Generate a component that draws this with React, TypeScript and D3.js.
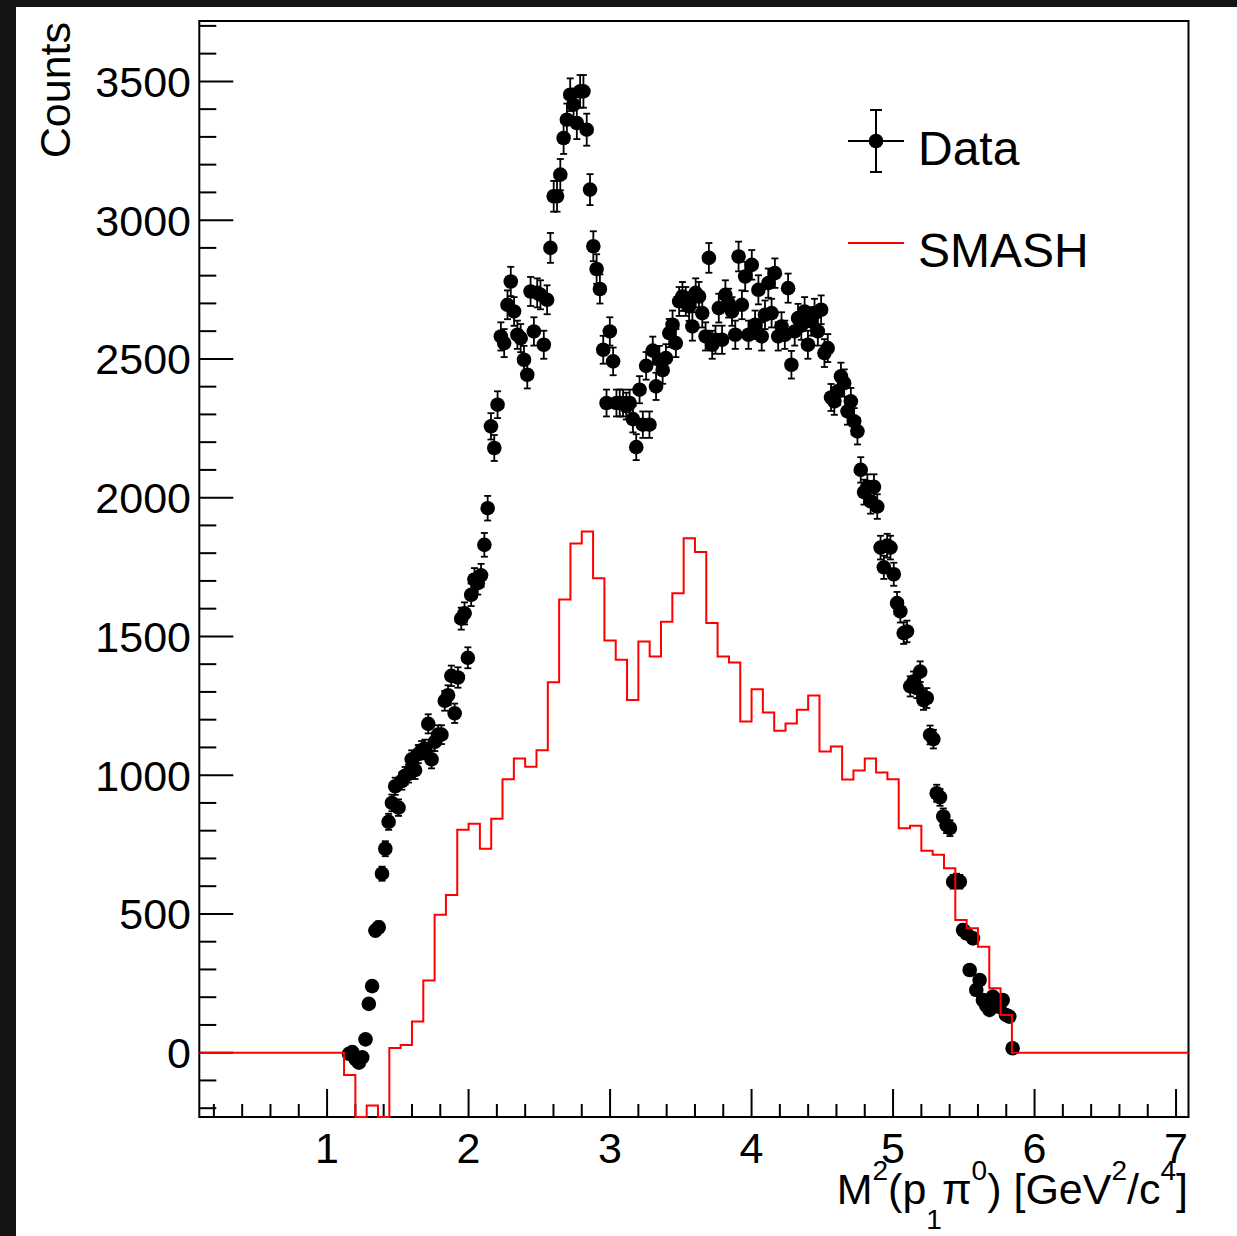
import React from "react";
import * as d3 from "d3";

const W = 1237;
const H = 1236;

// axis ranges (data units)
const X_DOMAIN: [number, number] = [0.097, 7.088];
const Y_DOMAIN: [number, number] = [-231.7, 3717.6];

const xMajorTicks = [1, 2, 3, 4, 5, 6, 7];
const yMajorTicks = [0, 500, 1000, 1500, 2000, 2500, 3000, 3500];
const xMinorStep = 0.2;
const yMinorStep = 100;

// Data histogram: bin centres start at DATA_FIRST_CENTER, width DATA_BIN_WIDTH
const DATA_FIRST_CENTER = 1.155;
const DATA_BIN_WIDTH = 7 / 300;
const dataCounts = [
  -4, 2, -23, -36, -17, 48, 176, 240, 440, 452,
  645, 735, 832, 900, 960, 883, 979, 998, 1005, 1057,
  1018, 1076, 1090, 1095, 1185, 1057, 1120, 1146, 1146, 1268,
  1288, 1358, 1223, 1352, 1564, 1583, 1423, 1650, 1705, 1692,
  1720, 1830, 1962, 2257, 2179, 2335, 2581, 2557, 2695, 2779,
  2671, 2587, 2575, 2497, 2443, 2743, 2599, 2738, 2731, 2551,
  2713, 2900, 3086, 3086, 3164, 3296, 3362, 3452, 3416, 3350,
  3464, 3464, 3326, 3110, 2906, 2824, 2752, 2533, 2341, 2599,
  2491, 2341, 2341, 2341, 2330, 2341, 2283, 2182, 2389, 2263,
  2475, 2263, 2530, 2401, 2497, 2460, 2503, 2593, 2623, 2557,
  2707, 2725, 2707, 2689, 2617, 2738, 2725, 2665, 2581, 2864,
  2551, 2569, 2683, 2569, 2731, 2701, 2671, 2587, 2869, 2695,
  2797, 2587, 2839, 2623, 2749, 2581, 2659, 2773, 2665, 2809,
  2581, 2617, 2587, 2755, 2479, 2599, 2647, 2620, 2671, 2551,
  2635, 2665, 2599, 2677, 2521, 2539, 2361, 2347, 2383, 2437,
  2413, 2311, 2347, 2275, 2239, 2100, 2020, 2039, 1987, 2039,
  1968, 1820, 1749, 1827, 1820, 1724, 1620, 1590, 1512, 1518,
  1320, 1337, 1314, 1373, 1271, 1278, 1145, 1130, 935, 920,
  851, 820, 809, 616, 620, 616, 442, 430, 298, 412,
  226, 262, 190, 170, 154, 202, 180, 165, 190, 136,
  130, 16,
];

// SMASH histogram: first bin low edge and bin width
const SMASH_FIRST_EDGE = 1.12;
const SMASH_BIN_WIDTH = 0.08;
const smashCounts = [
  -80, -300, -190, -300, 17, 28, 112, 260, 497, 568,
  803, 825, 735, 843, 985, 1060, 1030, 1090, 1335, 1633,
  1835, 1878, 1710, 1485, 1416, 1271, 1482, 1428, 1553, 1656,
  1854, 1804, 1548, 1428, 1406, 1193, 1310, 1226, 1160, 1186,
  1236, 1287, 1085, 1103, 984, 1017, 1060, 1010, 985, 809,
  818, 728, 713, 665, 478, 448, 382, 232, 136,
];

const legendLabels = ["Data", "SMASH"];

const FONT = "'Liberation Sans', Arial, Helvetica, sans-serif";
const RED = "#ff0000";

export default function App() {
  const left = 199.3;
  const right = 1188.5;
  const top = 21;
  const bottom = 1117;

  const x = d3.scaleLinear().domain(X_DOMAIN).range([left, right]);
  const y = d3.scaleLinear().domain(Y_DOMAIN).range([bottom, top]);

  const points = dataCounts.map((v, k) => ({
    u: DATA_FIRST_CENTER + k * DATA_BIN_WIDTH,
    v,
    e: Math.sqrt(Math.max(v, 0)),
  }));

  const histPts: [number, number][] = [[X_DOMAIN[0], 0]];
  smashCounts.forEach((v, i) =>
    histPts.push([SMASH_FIRST_EDGE + i * SMASH_BIN_WIDTH, Math.max(v, Y_DOMAIN[0])])
  );
  const histEnd = SMASH_FIRST_EDGE + smashCounts.length * SMASH_BIN_WIDTH;
  histPts.push([histEnd, 0]);
  histPts.push([X_DOMAIN[1], 0]);
  const line = d3
    .line<[number, number]>()
    .x((d) => x(d[0]))
    .y((d) => y(d[1]))
    .curve(d3.curveStepAfter);

  const xMinor = d3
    .range(Math.ceil(X_DOMAIN[0] / xMinorStep), Math.floor(X_DOMAIN[1] / xMinorStep) + 1)
    .map((i) => +(i * xMinorStep).toFixed(4))
    .filter((t) => !xMajorTicks.some((m) => Math.abs(m - t) < 1e-6));
  const yMinor = d3
    .range(Math.ceil(Y_DOMAIN[0] / yMinorStep), Math.floor(Y_DOMAIN[1] / yMinorStep) + 1)
    .map((i) => i * yMinorStep)
    .filter((t) => t % 500 !== 0);

  const r = 7.3;
  const cap = 3.5;

  return (
    <div style={{ position: "absolute", left: 0, top: 0 }}>
      <svg width={W} height={H} style={{ display: "block" }}>
        <rect x={0} y={0} width={W} height={H} fill="#141414" />
        <rect x={16} y={7} width={W - 16} height={H - 7} fill="#ffffff" />

        {/* frame */}
        <rect
          x={left}
          y={top}
          width={right - left}
          height={bottom - top}
          fill="none"
          stroke="#000"
          strokeWidth={2}
        />

        {/* y ticks */}
        <g stroke="#000" strokeWidth={2}>
          {yMajorTicks.map((t) => (
            <line key={"ym" + t} x1={left} x2={left + 34} y1={y(t)} y2={y(t)} />
          ))}
          {yMinor.map((t) => (
            <line key={"yn" + t} x1={left} x2={left + 17} y1={y(t)} y2={y(t)} />
          ))}
        </g>
        {/* x ticks */}
        <g stroke="#000" strokeWidth={2}>
          {xMajorTicks.map((t) => (
            <line key={"xm" + t} x1={x(t)} x2={x(t)} y1={bottom} y2={bottom - 28} />
          ))}
          {xMinor.map((t) => (
            <line key={"xn" + t} x1={x(t)} x2={x(t)} y1={bottom} y2={bottom - 13} />
          ))}
        </g>

        {/* data points with error bars */}
        <g>
          {points.map((p, i) => {
            const cx = x(p.u);
            const cy = y(p.v);
            const y1 = y(p.v + p.e);
            const y2 = y(p.v - p.e);
            return (
              <g key={i}>
                {p.e > 0 && (
                  <g stroke="#000" strokeWidth={1.8}>
                    <line x1={cx} x2={cx} y1={y1} y2={y2} />
                    <line x1={cx - cap} x2={cx + cap} y1={y1} y2={y1} />
                    <line x1={cx - cap} x2={cx + cap} y1={y2} y2={y2} />
                  </g>
                )}
                <circle cx={cx} cy={cy} r={r} fill="#000" />
              </g>
            );
          })}
        </g>

        {/* SMASH histogram */}
        <path d={line(histPts) || ""} fill="none" stroke={RED} strokeWidth={2} />

        {/* tick labels */}
        <g fontFamily={FONT} fontSize={43} fill="#000">
          {yMajorTicks.map((t) => (
            <text key={"yl" + t} x={191} y={y(t) + 15.5} textAnchor="end">
              {t}
            </text>
          ))}
          {xMajorTicks.map((t) => (
            <text key={"xl" + t} x={x(t)} y={1163} textAnchor="middle">
              {t}
            </text>
          ))}
        </g>

        {/* axis titles */}
        <text
          transform="translate(70,22) rotate(-90)"
          textAnchor="end"
          fontFamily={FONT}
          fontSize={43}
          fill="#000"
        >
          Counts
        </text>
        <text x={1188} y={1204} textAnchor="end" fontFamily={FONT} fontSize={43} fill="#000">
          <tspan>M</tspan>
          <tspan dy={-24} fontSize={28}>2</tspan>
          <tspan dy={24}>(p</tspan>
          <tspan dy={25} fontSize={28}>1</tspan>
          <tspan dy={-25}>π</tspan>
          <tspan dy={-24} fontSize={28}>0</tspan>
          <tspan dy={24}>{") [GeV"}</tspan>
          <tspan dy={-24} fontSize={28}>2</tspan>
          <tspan dy={24}>/c</tspan>
          <tspan dy={-24} fontSize={28}>4</tspan>
          <tspan dy={24}>]</tspan>
        </text>

        {/* legend */}
        <g>
          <g stroke="#000" strokeWidth={2}>
            <line x1={848} x2={904} y1={141} y2={141} />
            <line x1={876} x2={876} y1={110} y2={172} />
            <line x1={870} x2={882} y1={110} y2={110} />
            <line x1={870} x2={882} y1={172} y2={172} />
          </g>
          <circle cx={876} cy={141} r={r} fill="#000" />
          <text x={918} y={165} fontFamily={FONT} fontSize={48} fill="#000">
            {legendLabels[0]}
          </text>
          <line x1={848} x2={904} y1={243} y2={243} stroke={RED} strokeWidth={2} />
          <text x={918} y={267} fontFamily={FONT} fontSize={48} fill="#000">
            {legendLabels[1]}
          </text>
        </g>
      </svg>
    </div>
  );
}
